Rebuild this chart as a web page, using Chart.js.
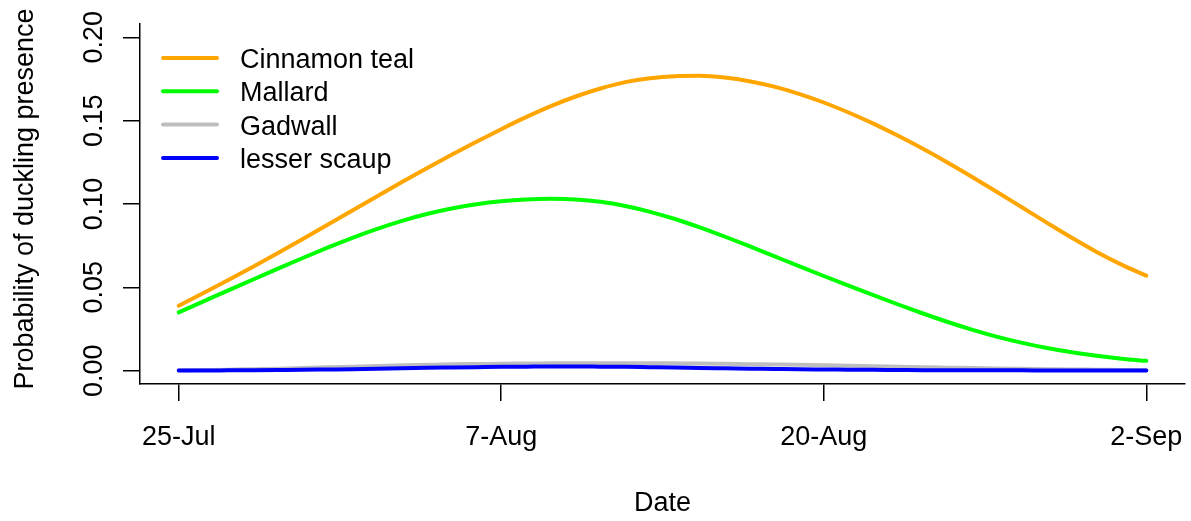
<!DOCTYPE html>
<html>
<head>
<meta charset="utf-8">
<script src="https://cdn.jsdelivr.net/npm/chart.js@4.4.1/dist/chart.umd.min.js"></script>
<style>
  html, body { margin: 0; padding: 0; background: #ffffff; }
  canvas { display: block; }
</style>
</head>
<body>
<canvas id="chart" width="1191" height="521"></canvas>
<script>
// Days since 25 July
const days = [0, 1, 2, 3, 4, 5, 6, 7, 8, 9, 10, 11, 12, 13, 14, 15, 16, 17, 18, 19,
              20, 21, 22, 23, 24, 25, 26, 27, 28, 29, 30, 31, 32, 33, 34, 35, 36, 37, 38, 39];

const dateTickDays = [0, 13, 26, 39];
const dateTickLabels = ['25-Jul', '7-Aug', '20-Aug', '2-Sep'];

const probTicks = [0, 0.05, 0.10, 0.15, 0.20];
const probTickLabels = ['0.00', '0.05', '0.10', '0.15', '0.20'];

const seriesNames = ['Cinnamon teal', 'Mallard', 'Gadwall', 'lesser scaup'];
const seriesColors = ['#FFA500', '#00FF00', '#BEBEBE', '#0000FF'];

const cinnamonTeal = [0.0390, 0.0466, 0.0544, 0.0624, 0.0706, 0.0790, 0.0875, 0.0961, 0.1047, 0.1132,
                      0.1215, 0.1295, 0.1373, 0.1449, 0.1521, 0.1587, 0.1645, 0.1693, 0.1731, 0.1755,
                      0.1767, 0.1769, 0.1759, 0.1737, 0.1704, 0.1661, 0.1609, 0.1549, 0.1482, 0.1409,
                      0.1331, 0.1248, 0.1161, 0.1071, 0.0979, 0.0887, 0.0797, 0.0712, 0.0636, 0.0570];

const mallard = [0.0350, 0.0416, 0.0482, 0.0547, 0.0612, 0.0676, 0.0738, 0.0797, 0.0851, 0.0899,
                 0.0940, 0.0973, 0.0998, 0.1016, 0.1027, 0.1031, 0.1027, 0.1013, 0.0988, 0.0953,
                 0.0910, 0.0860, 0.0805, 0.0747, 0.0687, 0.0627, 0.0568, 0.0510, 0.0453, 0.0397,
                 0.0343, 0.0292, 0.0245, 0.0203, 0.0167, 0.0136, 0.0110, 0.0089, 0.0072, 0.0059];

const gadwall = [0.0002, 0.0004, 0.0006, 0.0009, 0.0012, 0.0016, 0.0020, 0.0024, 0.0028, 0.0032,
                 0.0035, 0.0038, 0.0040, 0.0042, 0.0043, 0.0044, 0.0045, 0.0045, 0.0045, 0.0045,
                 0.0044, 0.0043, 0.0041, 0.0039, 0.0037, 0.0035, 0.0032, 0.0030, 0.0027, 0.0024,
                 0.0021, 0.0018, 0.0016, 0.0013, 0.0011, 0.0009, 0.0007, 0.0006, 0.0004, 0.0003];

const lesserScaup = [0.0001, 0.0001, 0.0002, 0.0003, 0.0004, 0.0005, 0.0007, 0.0009, 0.0012, 0.0014,
                     0.0017, 0.0019, 0.0021, 0.0023, 0.0024, 0.0025, 0.0025, 0.0024, 0.0023, 0.0021,
                     0.0019, 0.0016, 0.0014, 0.0012, 0.0010, 0.0008, 0.0007, 0.0006, 0.0005, 0.0004,
                     0.0003, 0.0003, 0.0002, 0.0002, 0.0002, 0.0001, 0.0001, 0.0001, 0.0001, 0.0001];

const seriesValues = [cinnamonTeal, mallard, gadwall, lesserScaup];

const FONT = '27px "Liberation Sans", Arial, Helvetica, sans-serif';

const datasets = seriesNames.map((name, i) => ({
  label: name,
  data: days.map((d, j) => ({ x: d, y: seriesValues[i][j] })),
  borderColor: seriesColors[i],
  backgroundColor: seriesColors[i],
  borderWidth: 4,
  borderCapStyle: 'round',
  borderJoinStyle: 'round',
  pointRadius: 0,
  cubicInterpolationMode: 'monotone',
  fill: false,
  order: seriesNames.length - 1 - i   // later series drawn on top
}));

// Text, axis titles and legend drawn in base-graphics style
const annotations = {
  id: 'annotations',
  afterDraw(chart) {
    const ctx = chart.ctx;
    const xs = chart.scales.x;
    const ys = chart.scales.y;
    const area = chart.chartArea;
    ctx.save();
    ctx.fillStyle = '#000';
    ctx.font = FONT;

    // x tick labels
    ctx.textAlign = 'center';
    ctx.textBaseline = 'alphabetic';
    dateTickDays.forEach((d, i) => {
      ctx.fillText(dateTickLabels[i], xs.getPixelForValue(d), 445);
    });

    // x title
    ctx.fillText('Date', (area.left + area.right) / 2, 511);

    // y tick labels (rotated)
    probTicks.forEach((v, i) => {
      ctx.save();
      ctx.translate(102, ys.getPixelForValue(v));
      ctx.rotate(-Math.PI / 2);
      ctx.textAlign = 'center';
      ctx.textBaseline = 'alphabetic';
      ctx.fillText(probTickLabels[i], 0, 0);
      ctx.restore();
    });

    // y title
    ctx.save();
    ctx.translate(33, 199);
    ctx.rotate(-Math.PI / 2);
    ctx.textAlign = 'center';
    ctx.textBaseline = 'alphabetic';
    ctx.fillText('Probability of duckling presence', 0, 0);
    ctx.restore();

    // legend
    const legX0 = 163, legX1 = 217, legText = 240, legY0 = 58, legStep = 33.3;
    chart.data.datasets.forEach((ds, i) => {
      const y = legY0 + i * legStep;
      ctx.beginPath();
      ctx.strokeStyle = ds.borderColor;
      ctx.lineWidth = 4;
      ctx.lineCap = 'round';
      ctx.moveTo(legX0, y);
      ctx.lineTo(legX1, y);
      ctx.stroke();
      ctx.fillStyle = '#000';
      ctx.textAlign = 'left';
      ctx.textBaseline = 'alphabetic';
      ctx.fillText(ds.label, legText, y + 10);
    });

    ctx.restore();
  }
};

new Chart(document.getElementById('chart'), {
  type: 'line',
  data: { datasets },
  options: {
    responsive: false,
    animation: false,
    events: [],
    layout: { padding: { top: 24, right: 6, left: 0, bottom: 0 } },
    plugins: { legend: { display: false }, tooltip: { enabled: false } },
    scales: {
      x: {
        type: 'linear',
        min: -1.56,
        max: 40.56,
        afterBuildTicks: s => { s.ticks = dateTickDays.map(v => ({ value: v })); },
        afterFit: s => { s.height = 137; },
        ticks: { display: false },
        grid: { drawOnChartArea: false, drawTicks: true, tickLength: 17, color: '#000', lineWidth: 1.5 },
        border: { display: true, color: '#000', width: 1.5 }
      },
      y: {
        type: 'linear',
        min: -0.008,
        max: 0.208,
        afterBuildTicks: s => { s.ticks = probTicks.map(v => ({ value: v })); },
        afterFit: s => { s.width = 140; },
        ticks: { display: false },
        grid: { drawOnChartArea: false, drawTicks: true, tickLength: 17, color: '#000', lineWidth: 1.5 },
        border: { display: true, color: '#000', width: 1.5 }
      }
    }
  },
  plugins: [annotations]
});
</script>
</body>
</html>
